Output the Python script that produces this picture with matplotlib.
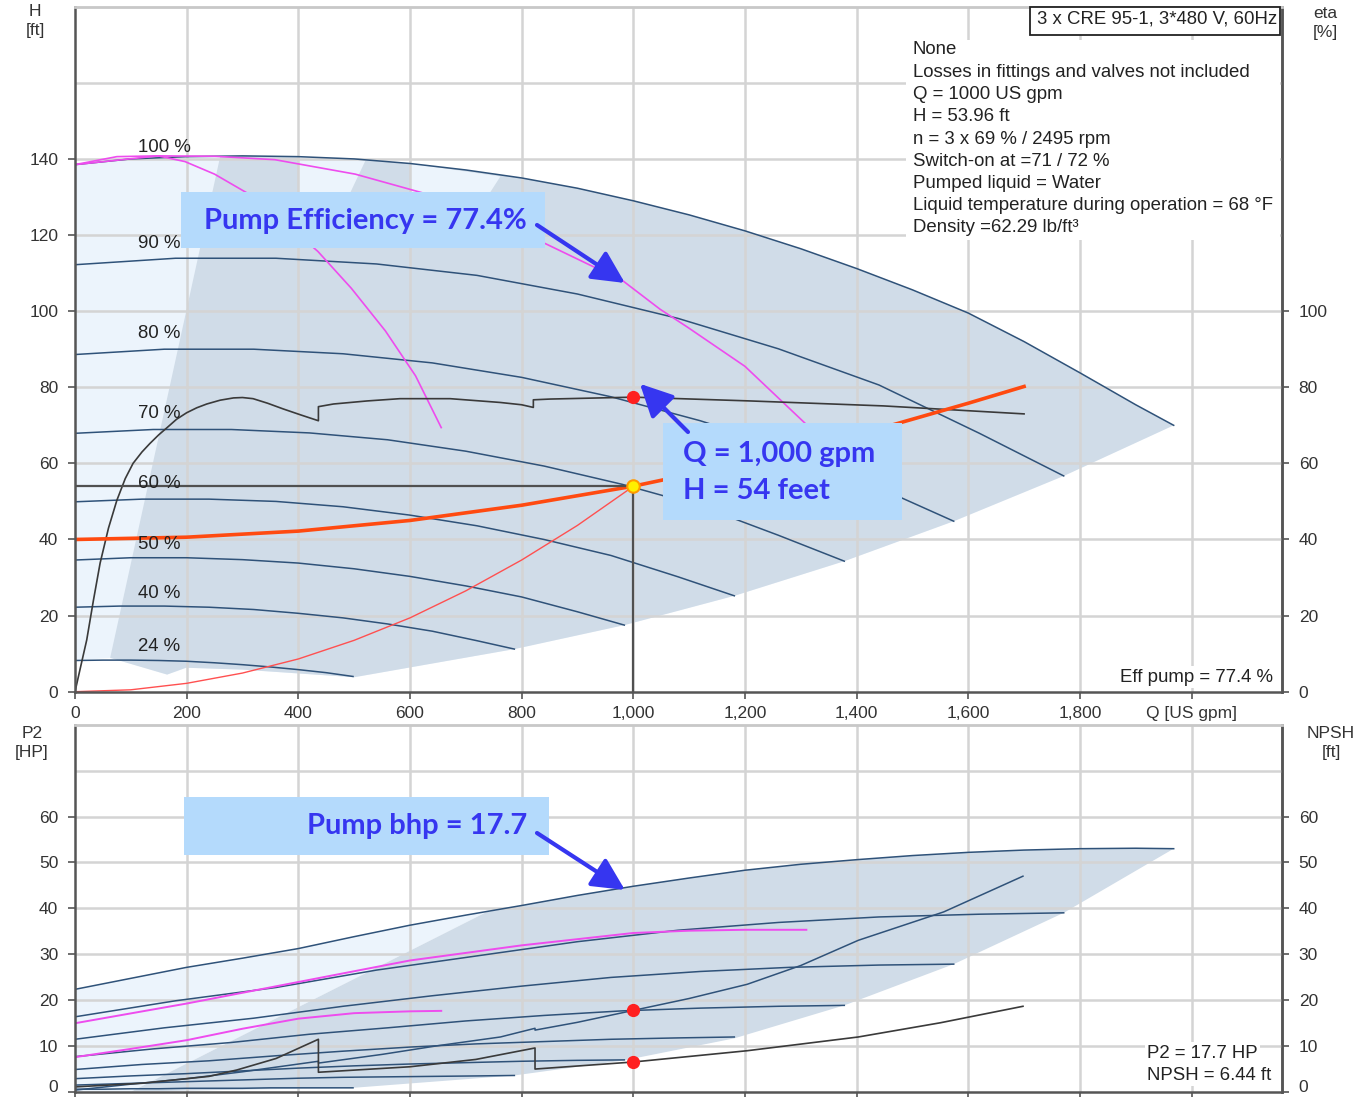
import numpy as np
import matplotlib as mpl
mpl.use('Agg')
from matplotlib import pyplot as plt
from matplotlib.patches import Rectangle

plt.rcParams['font.family'] = ['Liberation Sans', 'DejaVu Sans']

# head curves H [ft] vs Q [US gpm] for the speed steps
q_100 = [0, 100, 200, 300, 400, 500, 600, 700, 800, 900, 1000, 1100, 1200, 1300, 1400, 1500,
         1600, 1700, 1800, 1900, 1968]
h_100 = [138.5, 140.0, 140.6, 140.8, 140.6, 140.0, 138.8, 137.1, 135.0, 132.3, 129.0, 125.3,
         121.1, 116.4, 111.2, 105.6, 99.5, 92.0, 83.8, 75.4, 70.0]
q_90 = [0, 180, 360, 540, 720, 900, 1080, 1260, 1440, 1620, 1771]
h_90 = [112.2, 113.9, 113.9, 112.4, 109.4, 104.5, 98.1, 90.1, 80.6, 67.9, 56.7]
q_80 = [0, 160, 320, 480, 640, 800, 960, 1120, 1280, 1440, 1574]
h_80 = [88.6, 90.0, 90.0, 88.8, 86.4, 82.6, 77.5, 71.2, 63.7, 53.6, 44.8]
q_70 = [0, 140, 280, 420, 560, 700, 840, 980, 1120, 1260, 1378]
h_70 = [67.9, 68.9, 68.9, 68.0, 66.2, 63.2, 59.3, 54.5, 48.8, 41.1, 34.3]
q_60 = [0, 120, 240, 360, 480, 600, 720, 840, 960, 1080, 1181]
h_60 = [49.9, 50.6, 50.6, 50.0, 48.6, 46.4, 43.6, 40.0, 35.8, 30.2, 25.2]
q_50 = [0, 100, 200, 300, 400, 500, 600, 700, 800, 900, 984]
h_50 = [34.6, 35.2, 35.2, 34.7, 33.8, 32.3, 30.3, 27.8, 24.9, 21.0, 17.5]
q_40 = [0, 80, 160, 240, 320, 400, 480, 560, 640, 720, 787]
h_40 = [22.2, 22.5, 22.5, 22.2, 21.6, 20.6, 19.4, 17.8, 15.9, 13.4, 11.2]
q_24 = [0, 50, 100, 150, 200, 250, 300, 350, 400, 450, 498]
h_24 = [8.2, 8.3, 8.3, 8.2, 8.0, 7.6, 7.1, 6.5, 5.8, 5.0, 4.0]
speed_labels = ['100 %', '90 %', '80 %', '70 %', '60 %', '50 %', '40 %', '24 %']

# shaft power P2 [HP] on the same flow points
p_100 = [22.3, 24.7, 27.1, 29.1, 31.2, 33.8, 36.3, 38.5, 40.6, 42.8, 44.8, 46.6, 48.3, 49.6,
         50.6, 51.5, 52.2, 52.7, 53.0, 53.1, 53.0]
p_90 = [16.3, 19.8, 22.7, 26.5, 29.6, 32.7, 35.2, 36.9, 38.1, 38.7, 39.0]
p_80 = [11.4, 13.9, 16.0, 18.6, 20.9, 23.0, 24.9, 26.2, 27.1, 27.6, 27.8]
p_70 = [7.6, 9.3, 10.7, 12.5, 13.9, 15.4, 16.6, 17.6, 18.2, 18.6, 18.8]
p_60 = [4.8, 5.9, 6.7, 7.8, 8.8, 9.7, 10.4, 10.9, 11.4, 11.7, 11.9]
p_50 = [2.8, 3.4, 3.9, 4.5, 5.1, 5.6, 6.0, 6.3, 6.6, 6.8, 6.9]
p_40 = [1.4, 1.7, 2.0, 2.3, 2.6, 2.9, 3.1, 3.2, 3.3, 3.4, 3.5]
p_24 = [0.5, 0.5, 0.6, 0.6, 0.7, 0.7, 0.7, 0.8, 0.8, 0.8, 0.8]

# one pump / two pumps at full speed
mag1_q = [0, 75, 149, 197, 250, 310, 370, 435, 495, 556, 610, 656]
mag1_h = [138.5, 140.6, 140.8, 139.3, 136.0, 130.9, 124.0, 115.7, 106.0, 94.8, 83.0, 69.4]
mag2_q = [0, 149, 250, 358, 502, 627, 740, 846, 982, 1048, 1097, 1200, 1308]
mag2_h = [138.5, 140.8, 140.7, 139.8, 136.0, 130.9, 124.9, 117.5, 107.9, 100.5, 95.8, 85.5, 70.5]
magA_q = [0, 200, 400, 600, 800, 1000, 1100, 1200, 1310]
magA_p = [14.9, 19.2, 23.9, 28.6, 31.9, 34.6, 35.1, 35.3, 35.3]
magB_q = [0, 100, 200, 300, 400, 500, 600, 656]
magB_p = [7.5, 9.3, 11.2, 13.7, 15.9, 17.1, 17.5, 17.6]

# system curve and the quadratic curve through the duty point
sys_q = [0, 200, 400, 600, 800, 1000, 1200, 1400, 1600, 1700]
sys_h = [40.0, 40.6, 42.2, 45.0, 49.0, 54.0, 60.2, 67.4, 75.8, 80.2]
quad_q = [0, 100, 200, 300, 400, 500, 600, 700, 800, 900, 1000]
quad_h = [0.0, 0.5, 2.2, 4.9, 8.6, 13.5, 19.4, 26.5, 34.6, 43.7, 53.96]

# efficiency, P2 and NPSH along the system curve (pump staging jumps)
eta_q = [0, 10, 21, 33, 45, 60, 75, 90, 104, 120, 134, 150, 165, 182, 200, 218, 236, 260,
         284, 300, 319, 345, 373, 405, 436, 436, 463, 523, 582, 672, 762, 800, 821, 821,
         851, 1000, 1210, 1448, 1700]
eta = [0, 6.5, 13.6, 24.0, 33.8, 43.0, 50.3, 56.0, 60.0, 63.0, 65.2, 67.5, 69.4, 71.6, 73.3,
       74.6, 75.6, 76.6, 77.2, 77.3, 77.0, 75.8, 74.3, 72.7, 71.2, 74.9, 75.6, 76.4, 77.0,
       77.0, 76.0, 75.4, 74.7, 76.7, 76.9, 77.4, 76.4, 75.1, 73.0]
op_q = [0, 100, 200, 300, 436, 436, 550, 650, 762, 824, 824, 900, 1000, 1100, 1204, 1300,
        1403, 1556, 1658, 1698]
op_p = [0.3, 1.6, 2.8, 4.3, 6.6, 6.2, 8.1, 10.0, 11.9, 13.8, 13.4, 15.1, 17.7, 20.3, 23.4,
        27.5, 33.0, 39.2, 44.8, 47.0]
npsh_q = [0, 120, 240, 290, 360, 436, 436, 600, 718, 824, 824, 1000, 1204, 1403, 1550, 1698]
npsh = [1.0, 1.8, 3.3, 4.7, 7.2, 11.4, 4.2, 5.4, 7.0, 9.5, 4.9, 6.44, 8.9, 11.9, 15.0, 18.6]

# duty point
q_duty, h_duty, eta_duty, p2_duty, npsh_duty = 1000, 53.96, 77.4, 17.7, 6.44

# operating area edges
edge_q = [63, 260]
edge_h = [8.9, 140.6]
low_q = [63, 165, 199, 300, 400, 500, 787, 984, 1181, 1378, 1574, 1771, 1968]
low_h = [8.9, 4.5, 6.3, 5.8, 4.8, 3.8, 11.2, 17.5, 25.2, 34.3, 44.8, 56.7, 70.0]
gap1_q = [400, 522, 470, 400]
gap1_h = [140.6, 140.1, 124.0, 124.0]
gap2_q = [600, 762, 712, 600]
gap2_h = [138.8, 135.4, 124.0, 124.0]
pedge_q = [101, 736]
pedge_p = [0.0, 39.1]
plow_q = [101, 498, 787, 984, 1181, 1378, 1574, 1771, 1968]
plow_p = [0.0, 0.8, 3.5, 6.8, 11.6, 18.8, 27.8, 39.0, 53.0]

info_lines = ['None', 'Losses in fittings and valves not included', 'Q = 1000 US gpm',
              'H = 53.96 ft', 'n = 3 x 69 % / 2495 rpm', 'Switch-on at =71 / 72 %',
              'Pumped liquid = Water', 'Liquid temperature during operation = 68 °F',
              'Density =62.29 lb/ft³']

LIGHT = '#ecf4fc'
DARK = '#d0dce8'
NAVY = '#2f5279'
MAG = '#ee4cee'
GRID = '#d4d4d4'
BLUE = '#3636f0'
BOXC = '#b4dafc'
TXT = 13.4

W, H = 1361, 1097
fig = plt.figure(figsize=(W / 100, H / 100), dpi=100)


def fx(px):
    return px / W


def fy(py):
    return 1 - py / H


ax = fig.add_axes([fx(75), fy(691.7), 1207 / W, 685 / H])
axp = fig.add_axes([fx(75), fy(1091.5), 1207 / W, 366.5 / H])

for a, ymax, ystep in [(ax, 180, 20), (axp, 80, 10)]:
    a.set_xlim(0, 2162)
    a.set_ylim(0, ymax)
    for gx in range(200, 2001, 200):
        a.axvline(gx, color=GRID, lw=1.8, zorder=0.5)
    for gy in range(ystep, ymax, ystep):
        a.axhline(gy, color=GRID, lw=1.8, zorder=0.5)
    for s in ['left', 'bottom', 'right']:
        a.spines[s].set_color('#555555')
        a.spines[s].set_linewidth(1.8)
    a.spines['top'].set_color('#c8c8c8')
    a.spines['top'].set_linewidth(2)
    a.tick_params(direction='out', length=5, width=1.2, color='#555555',
                  labelsize=12.5, labelcolor='#333333', pad=7)

# ---- head panel ----
q100 = np.array(q_100)
h100 = np.array(h_100)
ax.fill(np.concatenate([[0], q100, low_q[::-1]]),
        np.concatenate([[h_24[0]], h100, low_h[::-1]]), color=LIGHT, lw=0, zorder=0.2)
m = q100 > edge_q[1]
ax.fill(np.concatenate([edge_q, q100[m], low_q[::-1]]),
        np.concatenate([edge_h, h100[m], low_h[::-1]]), color=DARK, lw=0, zorder=0.3)
ax.fill(gap1_q, gap1_h, color=LIGHT, lw=0, zorder=0.35)
ax.fill(gap2_q, gap2_h, color=LIGHT, lw=0, zorder=0.35)

h_curves = [(q_100, h_100), (q_90, h_90), (q_80, h_80), (q_70, h_70),
            (q_60, h_60), (q_50, h_50), (q_40, h_40), (q_24, h_24)]
label_y = [142.9, 117.7, 94.0, 73.0, 54.6, 38.6, 25.9, 11.8]
for (qq, hh), lab, ly in zip(h_curves, speed_labels, label_y):
    ax.plot(qq, hh, color=NAVY, lw=1.1, zorder=2)
    ax.text(113, ly, lab, fontsize=TXT, color='#222222', va='center', ha='left', zorder=3)

ax.plot(mag1_q, mag1_h, color=MAG, lw=1.2, zorder=2.2)
ax.plot(mag2_q, mag2_h, color=MAG, lw=1.2, zorder=2.2)
ax.plot(quad_q, quad_h, color='#ff5050', lw=1.0, zorder=2.1)
ax.plot(eta_q, eta, color='#3a3a3a', lw=1.2, zorder=2.3)
ax.plot(sys_q, sys_h, color='#ff4a10', lw=2.6, zorder=2.4)
ax.plot([0, q_duty], [h_duty, h_duty], color='#505050', lw=1.6, zorder=2.5)
ax.plot([q_duty, q_duty], [0, h_duty], color='#505050', lw=1.6, zorder=2.5)
ax.plot(q_duty, eta_duty, 'o', ms=8.5, color='#ff2020', mec='#ff2020', zorder=4)
ax.plot(q_duty, h_duty, 'o', ms=9, color='#fff000', mec='#ff9a00', mew=1.5, zorder=4)

ax.set_yticks(range(0, 141, 20))
ax.set_xticks(range(0, 2001, 200))
ax.set_xticklabels([f'{v:,}' for v in range(0, 1801, 200)] + ['Q [US gpm]'])
ax.tick_params(axis='x', pad=5)
sec = ax.secondary_yaxis('right')
sec.set_yticks(range(0, 101, 20))
sec.spines['right'].set_color('#555555')
sec.spines['right'].set_linewidth(1.8)
sec.tick_params(direction='out', length=5, width=1.2, color='#555555',
                labelsize=12.5, labelcolor='#333333', pad=7)

# ---- power / NPSH panel ----
p100 = np.array(p_100)
left = q100 < pedge_q[1]
axp.fill(np.concatenate([[0, 0], q100[left], pedge_q[::-1]]),
         np.concatenate([[0, p100[0]], p100[left], pedge_p[::-1]]),
         color=LIGHT, lw=0, zorder=0.2)
axp.fill(np.concatenate([pedge_q, q100[~left], plow_q[::-1]]),
         np.concatenate([pedge_p, p100[~left], plow_p[::-1]]),
         color=DARK, lw=0, zorder=0.3)
p_curves = [p_100, p_90, p_80, p_70, p_60, p_50, p_40, p_24]
for (qq, hh), pp in zip(h_curves, p_curves):
    axp.plot(qq, pp, color=NAVY, lw=1.1, zorder=2)
axp.plot(magA_q, magA_p, color=MAG, lw=1.4, zorder=2.2)
axp.plot(magB_q, magB_p, color=MAG, lw=1.4, zorder=2.2)
axp.plot(op_q, op_p, color=NAVY, lw=1.1, zorder=2.3)
axp.plot(npsh_q, npsh, color='#3a3a3a', lw=1.2, zorder=2.3)
axp.plot([q_duty, q_duty], [p2_duty, npsh_duty], 'o', ms=8.5, color='#ff2020', zorder=4)
axp.set_yticks(range(0, 61, 10))
axp.set_xticks(range(0, 2001, 200))
axp.tick_params(axis='x', labelbottom=False)
secp = axp.secondary_yaxis('right')
secp.set_yticks(range(0, 61, 10))
secp.spines['right'].set_color('#555555')
secp.spines['right'].set_linewidth(1.8)
secp.tick_params(direction='out', length=5, width=1.2, color='#555555',
                 labelsize=12.5, labelcolor='#333333', pad=7)
# the zero labels sit on the lower figure edge, keep them inside
for t in [axp.get_yticklabels()[0], secp.get_yticklabels()[0]]:
    t.set_va('baseline')

# ---- axis titles ----
for s, px, py in [('H', 35, 11), ('[ft]', 35, 31), ('eta', 1325, 13), ('[%]', 1325, 32),
                  ('P2', 32, 733), ('[HP]', 32, 752), ('NPSH', 1331, 733), ('[ft]', 1331, 752)]:
    fig.text(fx(px), fy(py), s, fontsize=12.5, color='#333333', ha='center', va='center')

# ---- info block ----
ax.add_patch(Rectangle((fx(1030), fy(35)), (1280 - 1030) / W, 28 / H, transform=fig.transFigure,
                       fc='white', ec='#222222', lw=1.3, zorder=8, clip_on=False))
ax.text(fx(1277), fy(19), '3 x CRE 95-1, 3*480 V, 60Hz', transform=fig.transFigure,
        fontsize=TXT, color='#222222', ha='right', va='center', zorder=9)
ax.add_patch(Rectangle((fx(906), fy(240)), (1280 - 906) / W, 200 / H, transform=fig.transFigure,
                       fc='white', ec='none', zorder=7, clip_on=False))
for i, line in enumerate(info_lines):
    ax.text(fx(913), fy(50 + 22.25 * i), line, transform=fig.transFigure, fontsize=TXT,
            color='#222222', ha='left', va='center', zorder=9)
ax.text(fx(1273), fy(677), f'Eff pump = {eta_duty} %', transform=fig.transFigure, fontsize=TXT,
        color='#222222', ha='right', va='center', zorder=9,
        bbox=dict(fc='white', ec='none', pad=1.5))
axp.text(fx(1147), fy(1053), f'P2 = {p2_duty} HP', transform=fig.transFigure, fontsize=TXT,
         color='#222222', ha='left', va='center', zorder=9,
         bbox=dict(fc='white', ec='none', pad=1.5))
axp.text(fx(1147), fy(1075), f'NPSH = {npsh_duty} ft', transform=fig.transFigure, fontsize=TXT,
         color='#222222', ha='left', va='center', zorder=9,
         bbox=dict(fc='white', ec='none', pad=1.5))

# ---- callouts ----
arrow = dict(arrowstyle='-|>,head_length=0.9,head_width=0.45', color=BLUE, lw=3,
             shrinkA=0, shrinkB=0, mutation_scale=22)
callout_font = dict(family=['Lato', 'DejaVu Sans'], fontweight='bold', fontsize=21, color=BLUE)

ax.annotate('', xy=(985, 107.4), xycoords='data', xytext=(fx(537), fy(225)),
            textcoords='figure fraction', arrowprops=arrow, zorder=10)
ax.add_patch(Rectangle((fx(181), fy(248)), 364 / W, 56 / H, transform=fig.transFigure,
                       fc=BOXC, ec='none', zorder=9, clip_on=False))
ax.text(fx(204), fy(221), f'Pump Efficiency = {eta_duty}%', transform=fig.transFigure,
        ha='left', va='center', zorder=11, **callout_font)

ax.annotate('', xy=(1012, 80.9), xycoords='data', xytext=(fx(688), fy(432)),
            textcoords='figure fraction', arrowprops=arrow, zorder=10)
ax.add_patch(Rectangle((fx(663), fy(520)), 239 / W, 97 / H, transform=fig.transFigure,
                       fc=BOXC, ec='none', zorder=9, clip_on=False))
ax.text(fx(683), fy(454), f'Q = {q_duty:,} gpm', transform=fig.transFigure,
        ha='left', va='center', zorder=11, **callout_font)
ax.text(fx(683), fy(491), f'H = {round(h_duty)} feet', transform=fig.transFigure,
        ha='left', va='center', zorder=11, **callout_font)

axp.annotate('', xy=(985, 44.0), xycoords='data', xytext=(fx(537), fy(833)),
             textcoords='figure fraction', arrowprops=arrow, zorder=10)
axp.add_patch(Rectangle((fx(184), fy(855)), 365 / W, 58 / H, transform=fig.transFigure,
                        fc=BOXC, ec='none', zorder=9, clip_on=False))
axp.text(fx(527), fy(826), f'Pump bhp = {p2_duty}', transform=fig.transFigure,
         ha='right', va='center', zorder=11, **callout_font)

fig.savefig('out.png', dpi=100)
